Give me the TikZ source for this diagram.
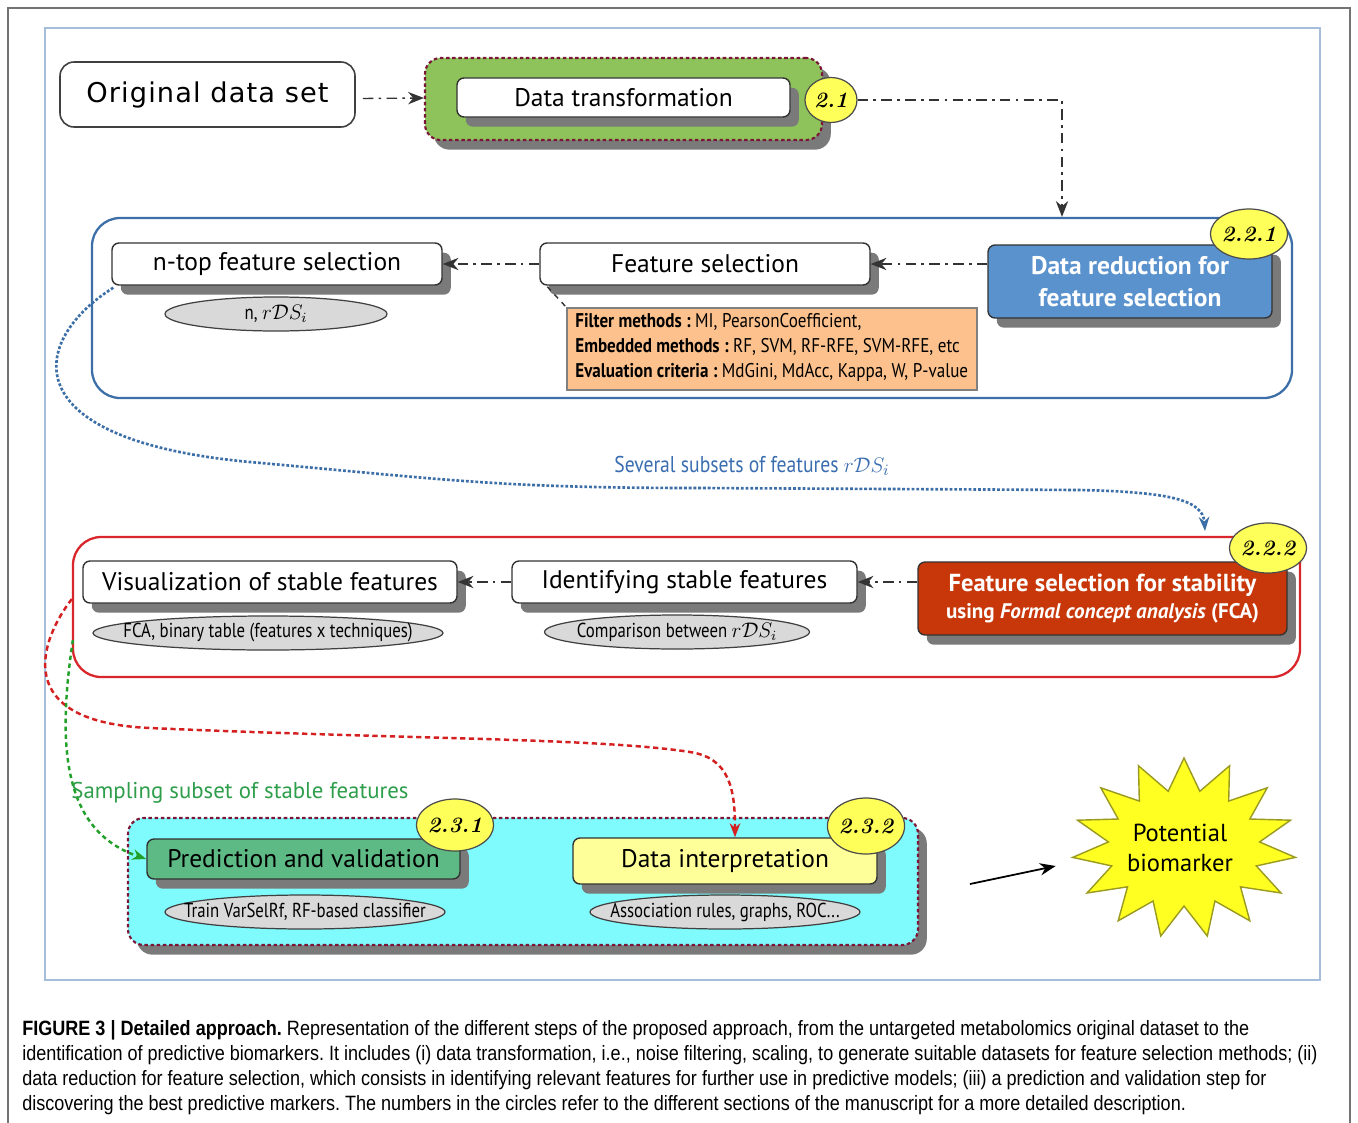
\documentclass[tikz,border=0pt]{standalone}
\usepackage{fontspec}
\setmainfont{PT Sans}
\newfontfamily\condf[FakeStretch=0.86]{PT Sans}
\newfontfamily\ellf[FakeStretch=0.83]{PT Sans}
\newfontfamily\capf[FakeStretch=0.87]{Liberation Sans}
\newfontfamily\handf[LetterSpace=4]{DejaVu Sans}
\newfontfamily\lmf{Latin Modern Roman}
\usetikzlibrary{shadows,arrows.meta,calc,shapes.geometric}
\definecolor{shadowgray}{HTML}{7A7A7A}
\definecolor{maroon}{HTML}{7A1636}
\definecolor{framegreen}{HTML}{8DC35A}
\definecolor{frameblue}{HTML}{3C6EA8}
\definecolor{drblue}{HTML}{5A92CE}
\definecolor{orangebox}{HTML}{FCC18C}
\definecolor{framered}{HTML}{D8262B}
\definecolor{fssred}{HTML}{C8370A}
\definecolor{cyanfill}{HTML}{80FBFD}
\definecolor{pvgreen}{HTML}{5DBA85}
\definecolor{diyellow}{HTML}{FFFF99}
\definecolor{circyellow}{HTML}{FFFF5A}
\definecolor{staryellow}{HTML}{FFFF22}
\definecolor{starline}{HTML}{9A9A20}
\definecolor{ellgray}{HTML}{D9D9D9}
\definecolor{labblue}{HTML}{3A6EB0}
\definecolor{labgreen}{HTML}{2E9E4B}
\definecolor{curvered}{HTML}{D42020}
\definecolor{curvegreen}{HTML}{22A02A}
\definecolor{innerframe}{HTML}{A6BEDC}
\newcommand{\ztext}[1]{\makebox[0pt][c]{#1}}
\frenchspacing
\begin{document}
\begin{tikzpicture}[x=0.02cm,y=-0.02cm,
  wh/.style 2 args={minimum width=#1*0.02cm, minimum height=#2*0.02cm},
  shad/.style={drop shadow={shadow xshift=5pt,shadow yshift=-5.5pt,fill=shadowgray,opacity=1}},
  box/.style={draw=black!80, line width=0.8pt, rounded corners=4pt, fill=white, inner sep=0, shad, font=\fontsize{14.5}{17}\selectfont},
  ell/.style={ellipse, draw=black!75, line width=0.7pt, fill=ellgray, inner sep=0, font=\ellf\fontsize{11.5}{13}\selectfont},
  circ/.style={ellipse, draw=black!70, line width=0.7pt, fill=circyellow, inner sep=0, font=\lmf\fontsize{12.5}{13}\selectfont\bfseries\itshape},
  dframe/.style={draw=maroon, line width=1.2pt, dash pattern=on 2pt off 1.5pt, rounded corners=9pt, inner sep=0, shad},
  ddarrow/.style={draw=black!80, line width=0.8pt, dash pattern=on 6pt off 3pt on 1.5pt off 3pt, -{Stealth[length=9pt,width=7pt]}}
]
\useasboundingbox (0,0) rectangle (1358,1122);
\fill[white] (0,0) rectangle (1358,1122);
% outer frames
\draw[black!55, line width=0.8pt] (8,8) rectangle (1350,1140);
\draw[innerframe, line width=1.2pt] (45,28) rectangle (1320,980);

% top row
\node[draw=black!75, line width=0.9pt, rounded corners=8pt, fill=white, wh={295}{65}, inner sep=0, font=\handf\fontsize{15.5}{18}\selectfont] (orig) at (207.5,94.5) {Original data set};
\node[dframe, fill=framegreen, wh={397}{82}] (gframe) at (623.5,99) {};
\node[box, wh={333}{39}] (dt) at (623.5,97.5) {Data transformation};
\node[circ, wh={52}{45}] (c21) at (831,100) {2.1};
\draw[ddarrow] (orig.east) ++(7,4) -- (gframe.west |- 0,98);

% blue section
\node[draw=frameblue, line width=1.3pt, rounded corners=16pt, wh={1200}{180}, inner sep=0] (bframe) at (692,308) {};
\draw[ddarrow] (c21.east) -| ($(bframe.north)+(370,0)$);
\node[box, wh={330}{42}] (ntop) at (277,264) {n-top feature selection};
\node[ell, wh={222}{34}] (e1) at (276,314) {\ztext{n, $r\mathcal{D}S_{i}$}};
\node[box, wh={330}{42}] (fs) at (705,264) {Feature selection};
\node[draw=black!50, line width=0.7pt, fill=orangebox, wh={410}{82}, inner sep=0] (orange) at (772,349) {};
\node[anchor=north west, align=left, inner sep=0, font=\condf\fontsize{11.3}{14.3}\selectfont] (otext) at (575,313)
 {\textbf{Filter methods :} MI, PearsonCoefficient,\\
  \textbf{Embedded methods :} RF, SVM, RF-RFE, SVM-RFE, etc\\
  \textbf{Evaluation criteria :} MdGini, MdAcc, Kappa, W, P-value};
\draw[black!80, line width=0.8pt, dashed] ($(fs.south west)+(8,1)$) -- (orange.north west);
\node[box, fill=drblue, text=white, align=center, wh={284}{73}, font=\fontsize{14.5}{18}\selectfont\bfseries] (dr) at (1130,281.5) {Data reduction for\\feature selection};
\node[circ, wh={58}{50}] (c221) at (1249,234) {2.2.1};
\draw[ddarrow] (dr.west |- fs.east) -- (fs.east);
\draw[ddarrow] (fs.west) -- (ntop.east);

% blue curve
\coordinate (bluetip) at (1205,531);
\draw[frameblue, line width=1.5pt, dash pattern=on 1.6pt off 1.1pt, -{Stealth[length=8pt,width=6pt]}]
  ($(ntop.south west)+(2,2)$) .. controls (30,340) and (10,440) .. (250,462)
  .. controls (450,480) and (500,488) .. (700,488)
  -- (1080,490) .. controls (1170,492) and (1203,500) .. (bluetip);
\node[text=labblue, font=\condf\fontsize{13}{15}\selectfont] (lab1) at (752,466) {Several subsets of features $r\mathcal{D}S_{i}$};

% red section
\node[draw=framered, line width=1.3pt, rounded corners=16pt, wh={1227}{140}, inner sep=0] (rframe) at (686.5,607) {};
\node[box, wh={374}{42}] (vis) at (270,582) {Visualization of stable features};
\node[ell, wh={350}{34}] (e2) at (268,633) {\ztext{FCA, binary table (features x techniques)}};
\node[box, wh={345}{42}] (ids) at (684.5,582) {Identifying stable features};
\node[ell, wh={265}{34}] (e3) at (677,632) {\ztext{Comparison between $r\mathcal{D}S_{i}$}};
\node[box, fill=fssred, text=white, align=center, wh={369}{73}, font=\bfseries] (fss) at (1102.5,598.5)
  {{\fontsize{14}{17}\selectfont Feature selection for stability}\\[3pt]{\fontsize{12}{14}\selectfont using \textit{Formal concept analysis} (FCA)}};
\node[circ, wh={58}{50}] (c222) at (1268,548) {2.2.2};
\draw[ddarrow] (fss.west |- ids.east) -- (ids.east);
\draw[ddarrow] (ids.west) -- (vis.east);

% bottom section
\node[dframe, fill=cyanfill, wh={790}{127}] (cframe) at (523,881.5) {};
\node[box, fill=pvgreen, wh={313}{40}] (pv) at (303.5,859) {Prediction and validation};
\node[circ, wh={66}{52}] (c231) at (455,825) {2.3.1};
\node[ell, wh={280}{34}] (e4) at (305,912) {\ztext{Train VarSelRf, RF-based classifier}};
\node[box, fill=diyellow, wh={304}{46}] (di) at (725,861) {Data interpretation};
\node[circ, wh={62}{56}] (c232) at (866,826) {2.3.2};
\node[ell, wh={270}{34}] (e5) at (725,912) {\ztext{Association rules, graphs, ROC...}};

% red & green curves
\draw[curvered, line width=1.4pt, dash pattern=on 3pt off 2pt, -{Stealth[length=8pt,width=6pt]}]
  ($(rframe.west)+(0,-8)$) .. controls (40,640) and (10,722) .. (150,728)
  .. controls (400,739) and (600,738) .. (690,752)
  .. controls (730,758) and (735,790) .. ($(di.north)+(10,0)$);
\draw[curvegreen, line width=1.4pt, dash pattern=on 2.5pt off 2pt, -{Stealth[length=8pt,width=6pt]}]
  ($(rframe.west)+(1,33)$) .. controls (58,740) and (60,830) .. (pv.west);
\node[text=labgreen, font=\fontsize{13}{15}\selectfont] (lab2) at (240,793) {Sampling subset of stable features};

% star
\draw[fill=staryellow, draw=starline, line width=0.8pt]
  ({1184+112*cos(-66)},{848+90*sin(-66)})
  \foreach \i in {1,...,29} { -- ({1184+(mod(\i,2)==0?112:76)*cos(-66+12*\i)},{848+(mod(\i,2)==0?90:58)*sin(-66+12*\i)}) } -- cycle;
\node[align=center, inner sep=0, wh={248}{60}, font=\fontsize{14}{17}\selectfont] (bio) at (1180,848) {Potential\\biomarker};
\coordinate (arrstart) at (970,884);
\draw[black, line width=1pt, -{Stealth[length=9pt,width=7pt]}] (arrstart) -- ($(bio.west)+(0,18)$);

% caption
\begin{scope}[every node/.style={anchor=west, inner sep=0, font=\capf\fontsize{11.8}{13}\selectfont}]
\node (cap1) at (22,1030) {\textbf{FIGURE 3 | Detailed approach.} Representation of the different steps of the proposed approach, from the untargeted metabolomics original dataset to the};
\node (cap2) at (22,1055) {identification of predictive biomarkers. It includes (i) data transformation, i.e., noise filtering, scaling, to generate suitable datasets for feature selection methods; (ii)};
\node (cap3) at (22,1080) {data reduction for feature selection, which consists in identifying relevant features for further use in predictive models; (iii) a prediction and validation step for};
\node (cap4) at (22,1105) {discovering the best predictive markers. The numbers in the circles refer to the different sections of the manuscript for a more detailed description.};
\end{scope}
\end{tikzpicture}
\end{document}
